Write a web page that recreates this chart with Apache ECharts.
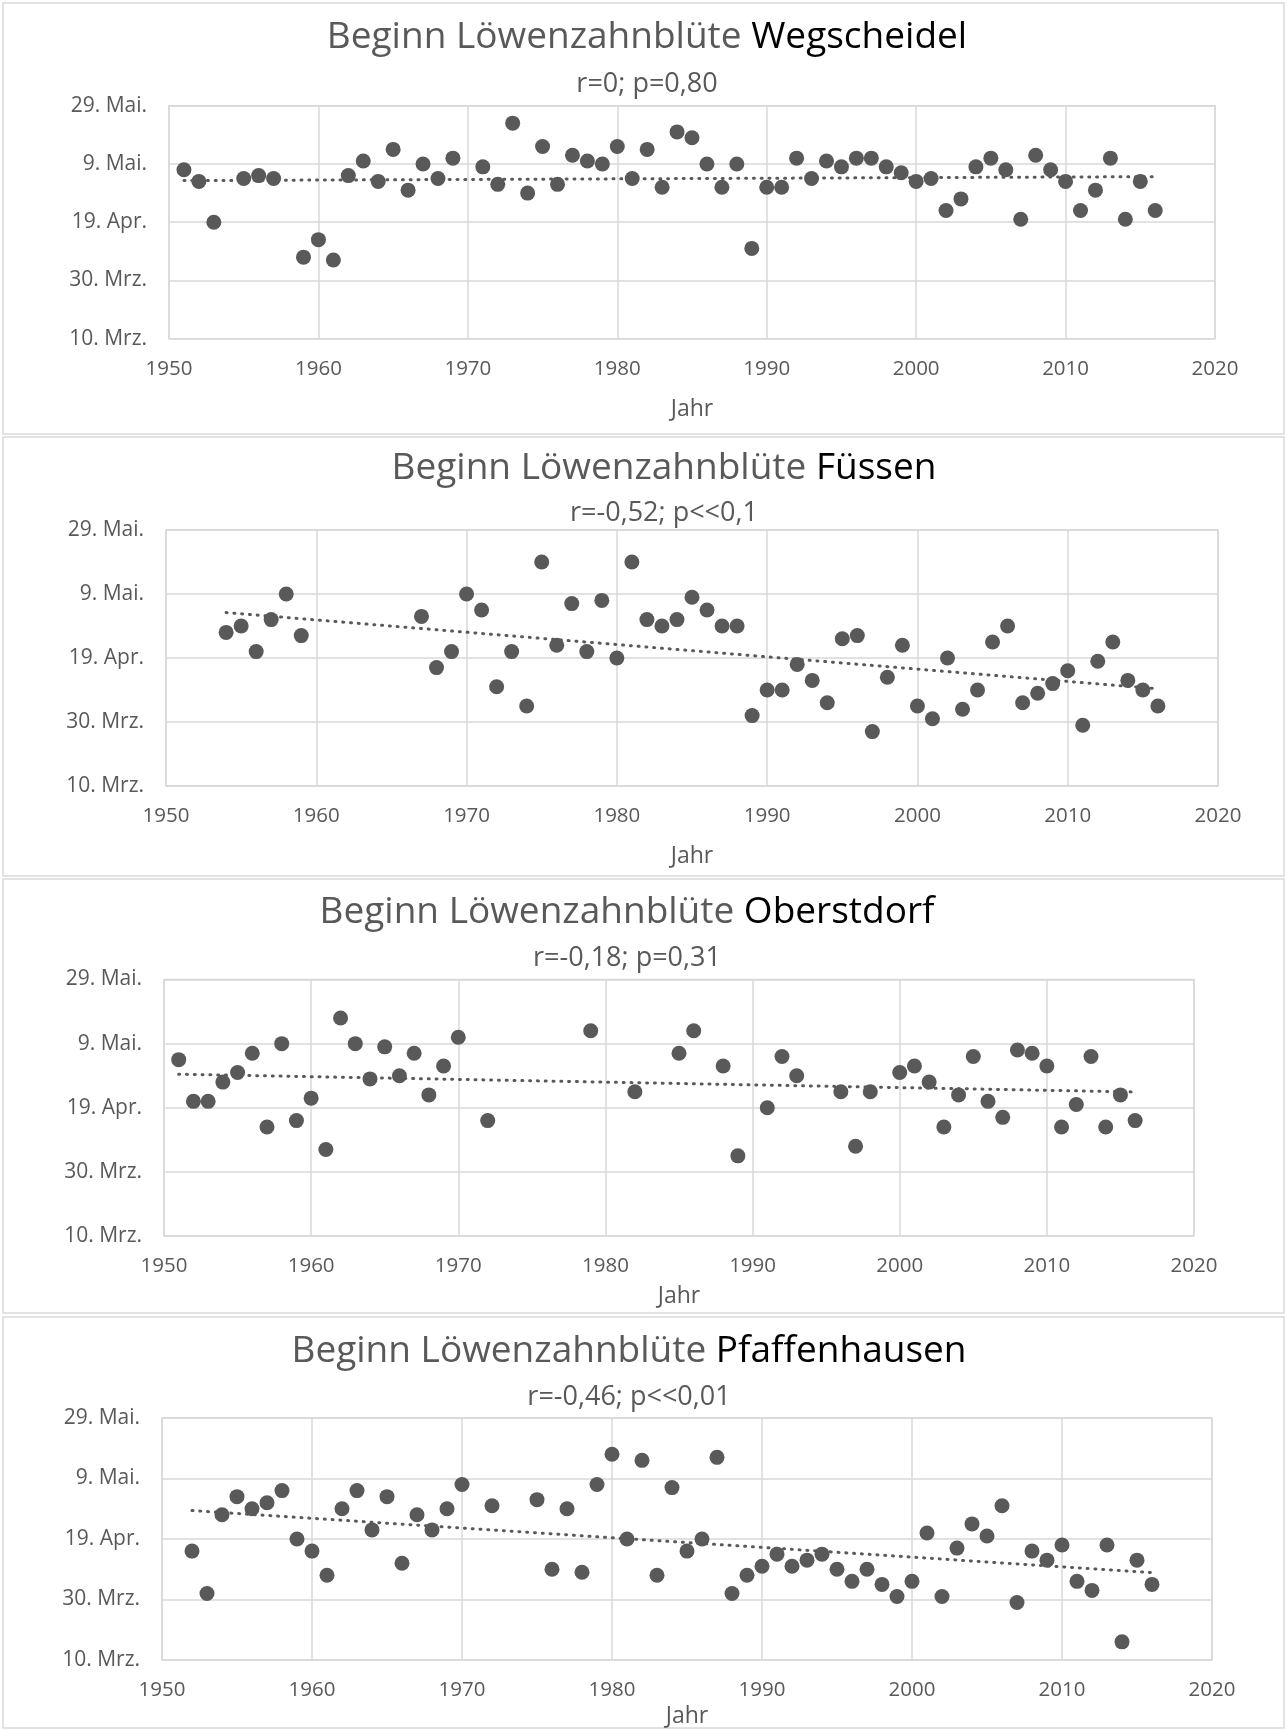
<!DOCTYPE html>
<html><head><meta charset="utf-8">
<script src="https://cdn.jsdelivr.net/npm/echarts@6/dist/echarts.min.js"></script>
<style>html,body{margin:0;padding:0;background:#fff}#c{width:1287px;height:1730px}</style>
</head><body><div id="c"></div>
<script>
// y values: days after 10 March (0 = 10. Mrz.)
const yTickLabels = ['10. Mrz.', '30. Mrz.', '19. Apr.', '9. Mai.', '29. Mai.'];
const titlePrefix = 'Beginn Löwenzahnblüte ';
const stations = ['Wegscheidel', 'Füssen', 'Oberstdorf', 'Pfaffenhausen'];
const subtitles = ['r=0; p=0,80', 'r=-0,52; p<<0,1', 'r=-0,18; p=0,31', 'r=-0,46; p<<0,01'];
const xAxisName = 'Jahr';

const wegYears = [1951,1952,1953,1955,1956,1957,1959,1960,1961,1962,1963,1964,1965,1966,1967,1968,1969,1971,1972,1973,1974,1975,1976,1977,1978,1979,1980,1981,1982,1983,1984,1985,1986,1987,1988,1989,1990,1991,1992,1993,1994,1995,1996,1997,1998,1999,2000,2001,2002,2003,2004,2005,2006,2007,2008,2009,2010,2011,2012,2013,2014,2015,2016];
const wegDays  = [58,54,40,55,56,55,28,34,27,56,61,54,65,51,60,55,62,59,53,74,50,66,53,63,61,60,66,55,65,52,71,69,60,52,60,31,52,52,62,55,61,59,62,62,59,57,54,55,44,48,59,62,58,41,63,58,54,44,51,62,41,54,44];

const fueYears = [1954,1955,1956,1957,1958,1959,1967,1968,1969,1970,1971,1972,1973,1974,1975,1976,1977,1978,1979,1980,1981,1982,1983,1984,1985,1986,1987,1988,1989,1990,1991,1992,1993,1994,1995,1996,1997,1998,1999,2000,2001,2002,2003,2004,2005,2006,2007,2008,2009,2010,2011,2012,2013,2014,2015,2016];
const fueDays  = [48,50,42,52,60,47,53,37,42,60,55,31,42,25,70,44,57,42,58,40,70,52,50,52,59,55,50,50,22,30,30,38,33,26,46,47,17,34,44,25,21,40,24,30,45,50,26,29,32,36,19,39,45,33,30,25];

const obeYears = [1951,1952,1953,1954,1955,1956,1957,1958,1959,1960,1961,1962,1963,1964,1965,1966,1967,1968,1969,1970,1972,1979,1982,1985,1986,1988,1989,1991,1992,1993,1996,1997,1998,2000,2001,2002,2003,2004,2005,2006,2007,2008,2009,2010,2011,2012,2013,2014,2015,2016];
const obeDays  = [55,42,42,48,51,57,34,60,36,43,27,68,60,49,59,50,57,44,53,62,36,64,45,57,64,53,25,40,56,50,45,28,45,51,53,48,34,44,56,42,37,58,57,53,34,41,56,34,44,36];

const pfaYears = [1952,1953,1954,1955,1956,1957,1958,1959,1960,1961,1962,1963,1964,1965,1966,1967,1968,1969,1970,1972,1975,1976,1977,1978,1979,1980,1981,1982,1983,1984,1985,1986,1987,1988,1989,1990,1991,1992,1993,1994,1995,1996,1997,1998,1999,2000,2001,2002,2003,2004,2005,2006,2007,2008,2009,2010,2011,2012,2013,2014,2015,2016];
const pfaDays  = [36,22,48,54,50,52,56,40,36,28,50,56,43,54,32,48,43,50,58,51,53,30,50,29,58,68,40,66,28,57,36,40,67,22,28,31,35,31,33,35,30,26,30,25,21,26,42,21,37,45,41,51,19,36,33,38,26,23,38,6,33,25];

const allYears = [wegYears, fueYears, obeYears, pfaYears];
const allDays = [wegDays, fueDays, obeDays, pfaDays];

// layout (pixels)
const L = [
  {box:[3,3,1281,431], grid:{left:169,top:105.7,width:1046,height:233}, tx:647, ty:37.5, sy:84, nameGap:59},
  {box:[3,437,1281,439], grid:{left:166,top:530,width:1052,height:256}, tx:664, ty:468, sy:513, nameGap:59},
  {box:[3,879,1281,434], grid:{left:164,top:979.5,width:1030,height:256.5}, tx:627, ty:912, sy:958, nameGap:49},
  {box:[3,1317,1281,411], grid:{left:162,top:1418,width:1050,height:242}, tx:629, ty:1351, sy:1397, nameGap:45}
];

const FONT = 'Open Sans';
const GRAY = '#595959';

function linreg(xs, ys) {
  const n = xs.length;
  let sx = 0, sy = 0, sxx = 0, sxy = 0;
  for (let i = 0; i < n; i++) { sx += xs[i]; sy += ys[i]; sxx += xs[i]*xs[i]; sxy += xs[i]*ys[i]; }
  const b = (n*sxy - sx*sy) / (n*sxx - sx*sx);
  const a = (sy - b*sx) / n;
  return {a, b};
}

const option = {animation:false, backgroundColor:'#fff', title:[], grid:[], xAxis:[], yAxis:[], series:[], graphic:[]};

L.forEach((p, i) => {
  option.graphic.push({type:'rect', shape:{x:p.box[0], y:p.box[1], width:p.box[2], height:p.box[3]},
    style:{fill:'none', stroke:'#d9d9d9', lineWidth:1.5}, z:-1, silent:true});
  option.title.push({
    text:'{a|' + titlePrefix + '}{b|' + stations[i] + '}',
    left:p.tx, top:p.ty, textAlign:'center', textVerticalAlign:'middle', padding:0,
    textStyle:{fontWeight:'normal', rich:{
      a:{color:GRAY, fontSize:37, fontWeight:'normal', fontFamily:FONT},
      b:{color:'#000', fontSize:37, fontWeight:'normal', fontFamily:FONT}}}
  });
  option.title.push({
    text:subtitles[i], left:p.tx, top:p.sy, textAlign:'center', textVerticalAlign:'middle', padding:0,
    textStyle:{color:GRAY, fontSize:27, fontWeight:'normal', fontFamily:FONT}
  });
  option.grid.push(Object.assign({show:true, borderColor:'#d9d9d9', borderWidth:1.5, containLabel:false}, p.grid));
  option.xAxis.push({
    type:'value', gridIndex:i, min:1950, max:2020, interval:10,
    name:xAxisName, nameLocation:'middle', nameGap:p.nameGap,
    nameTextStyle:{color:GRAY, fontSize:23, fontFamily:FONT},
    axisLine:{show:false}, axisTick:{show:false},
    axisLabel:{color:GRAY, fontSize:20.5, fontFamily:FONT, margin:20, formatter:v => String(v)},
    splitLine:{show:true, lineStyle:{color:'#d9d9d9', width:1.5}}
  });
  option.yAxis.push({
    type:'value', gridIndex:i, min:0, max:80, interval:20,
    axisLine:{show:false}, axisTick:{show:false},
    axisLabel:{color:GRAY, fontSize:21, fontFamily:FONT, margin:22, formatter:v => yTickLabels[Math.round(v/20)]},
    splitLine:{show:true, lineStyle:{color:'#d9d9d9', width:1.5}}
  });
  const xs = allYears[i], ys = allDays[i];
  option.series.push({
    type:'scatter', xAxisIndex:i, yAxisIndex:i, symbolSize:15,
    itemStyle:{color:GRAY, opacity:1}, data:xs.map((x, k) => [x, ys[k]]), z:2
  });
  const r = linreg(xs, ys);
  const x0 = xs[0], x1 = xs[xs.length-1];
  option.series.push({
    type:'line', xAxisIndex:i, yAxisIndex:i, symbol:'none', silent:true, z:3,
    lineStyle:{color:GRAY, width:3, type:[1, 6.8], cap:'round'},
    data:[[x0, r.a + r.b*x0], [x1, r.a + r.b*x1]]
  });
});

const chart = echarts.init(document.getElementById('c'), null, {renderer:'canvas'});
chart.setOption(option);
</script>
</body></html>
